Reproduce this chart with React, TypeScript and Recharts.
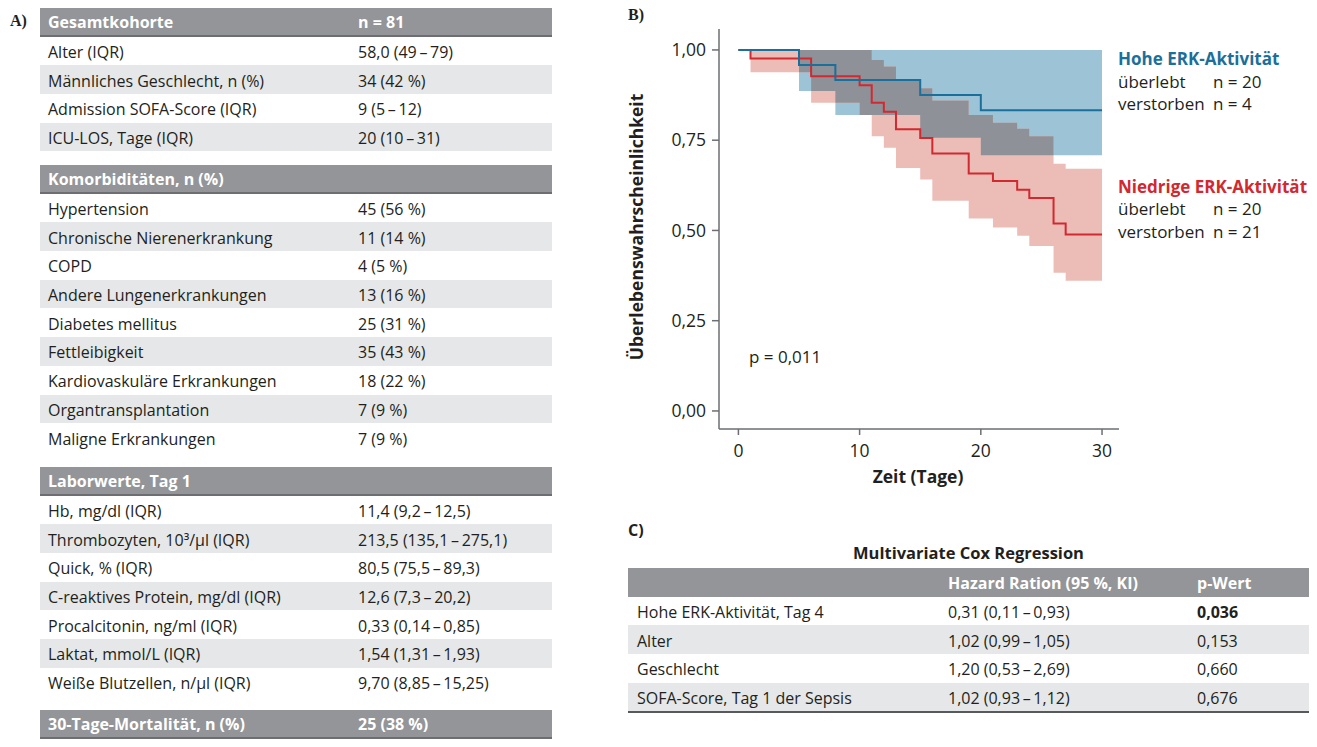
import React from "react";
import { ComposedChart, Area, Line, XAxis, YAxis } from "recharts";

const FONT = "'Open Sans', Lato, sans-serif";
const TEXT = "#231f20";

// Kaplan-Meier: hohe ERK-Aktivität (n = 24)
const highDays = [0, 5, 8, 15, 20, 30];
const highSurv = [1, 0.958, 0.917, 0.875, 0.833, 0.833];
const highLower = [null, 0.886, 0.82, 0.757, 0.708, 0.708];
const highUpper = [null, 1, 1, 1, 1, 1];

// Kaplan-Meier: niedrige ERK-Aktivität (n = 41)
const lowDays = [0, 1, 6, 10, 11, 12, 13, 15, 16, 19, 21, 23, 24, 26, 27, 30];
const lowSurv = [1, 0.976, 0.927, 0.902, 0.854, 0.829, 0.78, 0.756, 0.713, 0.658, 0.637, 0.613, 0.59, 0.519, 0.489, 0.489];
const lowLower = [null, 0.938, 0.854, 0.82, 0.761, 0.729, 0.673, 0.641, 0.582, 0.533, 0.508, 0.485, 0.457, 0.383, 0.361, 0.361];
const lowUpper = [null, 1, 1, 1, 0.972, 0.954, 0.917, 0.894, 0.86, 0.82, 0.798, 0.782, 0.761, 0.685, 0.671, 0.671];

const xTicks = [0, 10, 20, 30];
const yTicks = [0, 0.25, 0.5, 0.75, 1];

// table A
const cohortRows = [
  ["Alter (IQR)", "58,0 (49\u2009\u2013\u200979)"],
  ["Männliches Geschlecht, n (%)", "34 (42 %)"],
  ["Admission SOFA-Score (IQR)", "9 (5\u2009\u2013\u200912)"],
  ["ICU-LOS, Tage (IQR)", "20 (10\u2009\u2013\u200931)"],
];
const comorbRows = [
  ["Hypertension", "45 (56 %)"],
  ["Chronische Nierenerkrankung", "11 (14 %)"],
  ["COPD", "4 (5 %)"],
  ["Andere Lungenerkrankungen", "13 (16 %)"],
  ["Diabetes mellitus", "25 (31 %)"],
  ["Fettleibigkeit", "35 (43 %)"],
  ["Kardiovaskuläre Erkrankungen", "18 (22 %)"],
  ["Organtransplantation", "7 (9 %)"],
  ["Maligne Erkrankungen", "7 (9 %)"],
];
const labRows = [
  ["Hb, mg/dl (IQR)", "11,4 (9,2\u2009\u2013\u200912,5)"],
  ["Thrombozyten, 10³/µl (IQR)", "213,5 (135,1\u2009\u2013\u2009275,1)"],
  ["Quick, % (IQR)", "80,5 (75,5\u2009\u2013\u200989,3)"],
  ["C-reaktives Protein, mg/dl (IQR)", "12,6 (7,3\u2009\u2013\u200920,2)"],
  ["Procalcitonin, ng/ml (IQR)", "0,33 (0,14\u2009\u2013\u20090,85)"],
  ["Laktat, mmol/L (IQR)", "1,54 (1,31\u2009\u2013\u20091,93)"],
  ["Weiße Blutzellen, n/µl (IQR)", "9,70 (8,85\u2009\u2013\u200915,25)"],
];

// table C
const coxVars = ["Hohe ERK-Aktivität, Tag 4", "Alter", "Geschlecht", "SOFA-Score, Tag 1 der Sepsis"];
const coxHR = [
  "0,31 (0,11\u2009\u2013\u20090,93)",
  "1,02 (0,99\u2009\u2013\u20091,05)",
  "1,20 (0,53\u2009\u2013\u20092,69)",
  "1,02 (0,93\u2009\u2013\u20091,12)",
];
const coxP = ["0,036", "0,153", "0,660", "0,676"];

function stepAt(days: number[], vals: (number | null)[], d: number) {
  let v: number | null = null;
  for (let i = 0; i < days.length; i++) if (days[i] <= d) v = vals[i];
  return v;
}

const allDays = Array.from(new Set([...highDays, ...lowDays])).sort((a, b) => a - b);
let prevOverlap: number[] | null = null;
const kmData = allDays.map((day) => {
  const hl = stepAt(highDays, highLower, day);
  const hu = stepAt(highDays, highUpper, day);
  const ll = stepAt(lowDays, lowLower, day);
  const lu = stepAt(lowDays, lowUpper, day);
  let overlap: number[] | null = null;
  if (hl != null && hu != null && ll != null && lu != null) {
    const lo = Math.max(hl, ll);
    const hi = Math.min(hu, lu);
    if (lo < hi) {
      overlap = [lo, hi];
      prevOverlap = overlap;
    } else if (prevOverlap) {
      overlap = prevOverlap; // closes the last step
      prevOverlap = null;
    }
  }
  return {
    day,
    high: stepAt(highDays, highSurv, day),
    low: stepAt(lowDays, lowSurv, day),
    blueBand: hl == null ? null : [hl, hu],
    redBand: ll == null ? null : [ll, lu],
    overlap,
  };
});

const ROW_H = 28.7;

const headStyle: React.CSSProperties = {
  height: ROW_H - 4,
  paddingTop: 2,
  background: "#939598",
  borderBottom: "2px solid #6d6e71",
  display: "flex",
  alignItems: "center",
  color: "#fff",
  fontWeight: 700,
};

function Section({ top, title, value, rows }: { top: number; title: string; value?: string; rows: string[][] }) {
  return (
    <div style={{ position: "absolute", left: 40, top, width: 512 }}>
      <div style={headStyle}>
        <span style={{ width: 310, paddingLeft: 8 }}>{title}</span>
        <span>{value}</span>
      </div>
      {rows.map((r, i) => (
        <div
          key={r[0]}
          style={{
            height: ROW_H - 2,
            paddingTop: 2,
            background: i % 2 === 1 ? "#e6e7e8" : "#fff",
            display: "flex",
            alignItems: "center",
          }}
        >
          <span style={{ width: 310, paddingLeft: 8 }}>{r[0]}</span>
          <span>{r[1]}</span>
        </div>
      ))}
    </div>
  );
}

export default function App() {
  const tickStyle = { fontFamily: FONT, fontSize: 17.5, fill: TEXT };
  return (
    <div style={{ position: "relative", width: 1317, height: 747, fontFamily: FONT, fontSize: 16, color: TEXT, background: "#fff" }}>
      <style>{"body{margin:0}"}</style>

      {/* A) */}
      <div style={{ position: "absolute", left: 10, top: 12, fontFamily: "'Liberation Serif', serif", fontWeight: 700, fontSize: 16 }}>A)</div>
      <Section top={8} title="Gesamtkohorte" value="n = 81" rows={cohortRows} />
      <Section top={165} title="Komorbiditäten, n (%)" rows={comorbRows} />
      <Section top={467} title="Laborwerte, Tag 1" rows={labRows} />
      <div style={{ position: "absolute", left: 40, top: 710, width: 512 }}>
        <div style={headStyle}>
          <span style={{ width: 310, paddingLeft: 8 }}>30-Tage-Mortalität, n (%)</span>
          <span>25 (38 %)</span>
        </div>
      </div>

      {/* B) */}
      <div style={{ position: "absolute", left: 628, top: 6, fontFamily: "'Liberation Serif', serif", fontWeight: 700, fontSize: 16 }}>B)</div>
      <div style={{ position: "absolute", left: 620, top: 0 }}>
        <ComposedChart width={697} height={500} data={kmData} margin={{ top: 29, right: 198, bottom: 41, left: 19 }}>
          <XAxis
            type="number"
            dataKey="day"
            domain={[-1.6, 31.4]}
            ticks={xTicks}
            allowDataOverflow
            height={30}
            tickSize={6}
            tickMargin={10}
            tick={tickStyle}
            stroke="#6d6e71"
            strokeWidth={1.5}
          />
          <YAxis
            type="number"
            domain={[-0.05, 1.058]}
            ticks={yTicks}
            allowDataOverflow
            width={80}
            tickSize={7}
            tickMargin={6}
            tick={tickStyle}
            tickFormatter={(v: number) => v.toFixed(2).replace(".", ",")}
            stroke="#6d6e71"
            strokeWidth={1.5}
          />
          <Area type="stepAfter" dataKey="blueBand" fill="#9cc4d6" fillOpacity={1} stroke="none" isAnimationActive={false} activeDot={false} />
          <Area type="stepAfter" dataKey="redBand" fill="#ecbdb7" fillOpacity={1} stroke="none" isAnimationActive={false} activeDot={false} />
          <Area type="stepAfter" dataKey="overlap" fill="#8e9198" fillOpacity={1} stroke="none" isAnimationActive={false} activeDot={false} />
          <Line type="stepAfter" dataKey="low" stroke="#d2282f" strokeWidth={2} dot={false} activeDot={false} isAnimationActive={false} />
          <Line type="stepAfter" dataKey="high" stroke="#1b6f9b" strokeWidth={2} dot={false} activeDot={false} isAnimationActive={false} />
        </ComposedChart>
      </div>
      <div
        style={{
          position: "absolute",
          left: 636,
          top: 227,
          transform: "translate(-50%, -50%) rotate(-90deg)",
          whiteSpace: "nowrap",
          fontWeight: 700,
          fontSize: 17.5,
        }}
      >
        Überlebenswahrscheinlichkeit
      </div>
      <div style={{ position: "absolute", left: 918, top: 476, transform: "translate(-50%, -50%)", fontWeight: 700, fontSize: 17.5, whiteSpace: "nowrap" }}>
        Zeit (Tage)
      </div>
      <div style={{ position: "absolute", left: 749, top: 345, fontSize: 17 }}>p = 0,011</div>

      <div style={{ position: "absolute", left: 1118, top: 48, fontSize: 17, lineHeight: "22.5px" }}>
        <div style={{ color: "#1b6f9b", fontWeight: 700 }}>Hohe ERK-Aktivität</div>
        <div style={{ display: "flex" }}><span style={{ width: 95 }}>überlebt</span><span>n = 20</span></div>
        <div style={{ display: "flex" }}><span style={{ width: 95 }}>verstorben</span><span>n = 4</span></div>
        <div style={{ height: 60 }} />
        <div style={{ color: "#d2282f", fontWeight: 700 }}>Niedrige ERK-Aktivität</div>
        <div style={{ display: "flex" }}><span style={{ width: 95 }}>überlebt</span><span>n = 20</span></div>
        <div style={{ display: "flex" }}><span style={{ width: 95 }}>verstorben</span><span>n = 21</span></div>
      </div>

      {/* C) */}
      <div style={{ position: "absolute", left: 628, top: 519, fontWeight: 700, fontSize: 16 }}>C)</div>
      <div style={{ position: "absolute", left: 628, top: 541, width: 681, textAlign: "center", fontWeight: 700, fontSize: 16.5 }}>
        Multivariate Cox Regression
      </div>
      <div style={{ position: "absolute", left: 628, top: 568, width: 681 }}>
        <div style={{ height: ROW_H - 2, paddingTop: 2, background: "#939598", display: "flex", alignItems: "center", color: "#fff", fontWeight: 700 }}>
          <span style={{ width: 311, paddingLeft: 9 }} />
          <span style={{ width: 249 }}>Hazard Ration (95 %, KI)</span>
          <span>p-Wert</span>
        </div>
        {coxVars.map((v, i) => (
          <div
            key={v}
            style={{
              height: ROW_H - 2,
              paddingTop: 2,
              background: i % 2 === 1 ? "#e6e7e8" : "#fff",
              display: "flex",
              alignItems: "center",
            }}
          >
            <span style={{ width: 311, paddingLeft: 9 }}>{v}</span>
            <span style={{ width: 249 }}>{coxHR[i]}</span>
            <span style={{ fontWeight: i === 0 ? 700 : 400 }}>{coxP[i]}</span>
          </div>
        ))}
        <div style={{ height: 2, background: "#58595b" }} />
      </div>
    </div>
  );
}
